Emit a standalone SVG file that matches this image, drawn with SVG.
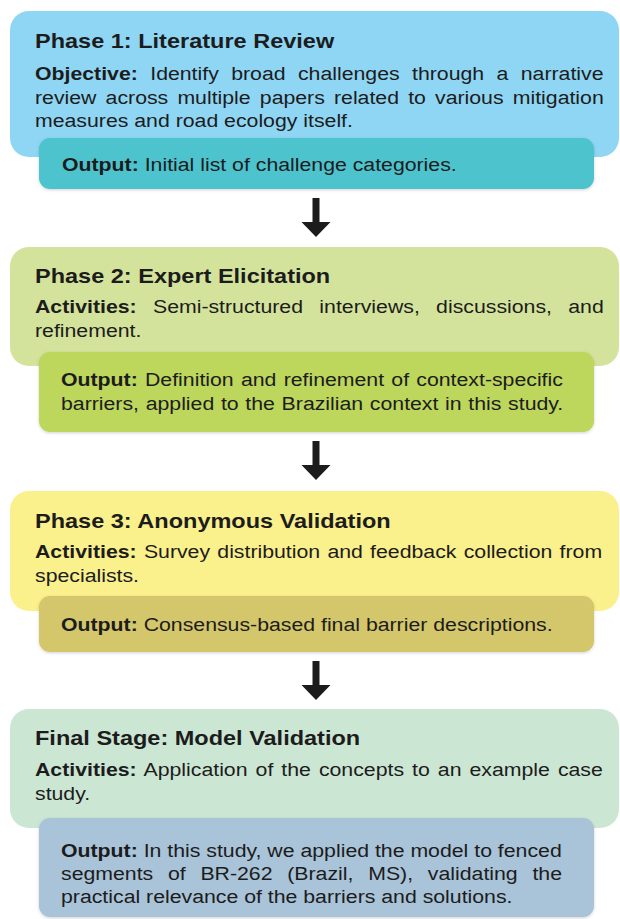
<svg xmlns="http://www.w3.org/2000/svg" width="620" height="919" viewBox="0 0 620 919">
<defs>
<style>
text{font-family:"Liberation Sans",Arial,sans-serif;fill:#1c1c1c;}
.t{font-size:21px;font-weight:bold;}
.x{font-size:19px;}
.b{font-weight:bold;}
</style>
<filter id="sh" x="-5%" y="-10%" width="110%" height="130%">
<feDropShadow dx="0" dy="1" stdDeviation="1.5" flood-color="#000" flood-opacity="0.18"/>
</filter>
<path id="arr" d="M-3.5,0 H3.5 V24 H14.5 L0,39 L-14.5,24 H-3.5 Z" fill="#1c1c1c"/>
</defs>
<rect width="620" height="919" fill="#ffffff"/>

<g id="phase1">
<rect x="10" y="11" width="609" height="146" rx="19" fill="#8fd6f4"/>
<rect x="39" y="138" width="555" height="51" rx="11" fill="#4ec3ce" filter="url(#sh)"/>
<g transform="translate(35 0) scale(1.12 1)">
<text class="t" x="0" y="48">Phase 1: Literature Review</text>
<text class="x" x="0" y="80" style="word-spacing:5.8px"><tspan class="b">Objective:</tspan> Identify broad challenges through a narrative</text>
<text class="x" x="0" y="104" style="word-spacing:2.9px">review across multiple papers related to various mitigation</text>
<text class="x" x="0" y="127">measures and road ecology itself.</text>
</g>
<g transform="translate(62 0) scale(1.12 1)">
<text class="x" x="0" y="171"><tspan class="b">Output:</tspan> Initial list of challenge categories.</text>
</g>
</g>

<g id="phase2">
<rect x="10" y="247" width="609" height="119" rx="19" fill="#d4e39b"/>
<rect x="39" y="352" width="555" height="80" rx="11" fill="#bdd65b" filter="url(#sh)"/>
<g transform="translate(35 0) scale(1.12 1)">
<text class="t" x="0" y="283">Phase 2: Expert Elicitation</text>
<text class="x" x="0" y="313" style="word-spacing:9.3px"><tspan class="b">Activities:</tspan> Semi-structured interviews, discussions, and</text>
<text class="x" x="0" y="337">refinement.</text>
</g>
<g transform="translate(61 0) scale(1.12 1)">
<text class="x" x="0" y="386" style="word-spacing:1.2px"><tspan class="b">Output:</tspan> Definition and refinement of context-specific</text>
<text class="x" x="0" y="410" style="word-spacing:0.7px">barriers, applied to the Brazilian context in this study.</text>
</g>
</g>

<g id="phase3">
<rect x="10" y="491" width="609" height="120" rx="19" fill="#faf08c"/>
<rect x="39" y="596" width="555" height="56" rx="11" fill="#d4c66b" filter="url(#sh)"/>
<g transform="translate(35 0) scale(1.12 1)">
<text class="t" x="0" y="528">Phase 3: Anonymous Validation</text>
<text class="x" x="0" y="558" style="word-spacing:1.2px"><tspan class="b">Activities:</tspan> Survey distribution and feedback collection from</text>
<text class="x" x="0" y="582">specialists.</text>
</g>
<g transform="translate(61 0) scale(1.12 1)">
<text class="x" x="0" y="631"><tspan class="b">Output:</tspan> Consensus-based final barrier descriptions.</text>
</g>
</g>

<g id="final">
<rect x="10" y="709" width="609" height="119" rx="19" fill="#cce6d4"/>
<rect x="39" y="818" width="555" height="99" rx="11" fill="#a9c3d8" filter="url(#sh)"/>
<g transform="translate(35 0) scale(1.12 1)">
<text class="t" x="0" y="745">Final Stage: Model Validation</text>
<text class="x" x="0" y="776" style="word-spacing:1.9px"><tspan class="b">Activities:</tspan> Application of the concepts to an example case</text>
<text class="x" x="0" y="800">study.</text>
</g>
<g transform="translate(61 0) scale(1.12 1)">
<text class="x" x="0" y="857"><tspan class="b">Output:</tspan> In this study, we applied the model to fenced</text>
<text class="x" x="0" y="880" style="word-spacing:7.9px">segments of BR-262 (Brazil, MS), validating the</text>
<text class="x" x="0" y="903">practical relevance of the barriers and solutions.</text>
</g>
</g>

<g id="connectors">
<use href="#arr" x="316" y="198"/>
<use href="#arr" x="316" y="441"/>
<use href="#arr" x="316" y="661"/>
</g>
</svg>
